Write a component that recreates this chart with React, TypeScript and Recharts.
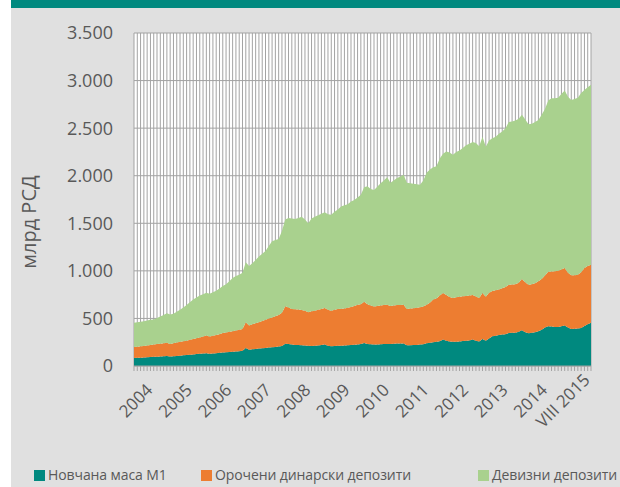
import { AreaChart, Area, XAxis, YAxis, CartesianGrid } from "recharts";

const TEAL = "#00897f";
const ORANGE = "#ed7d31";
const GREEN = "#a9d18e";
const TEXT = "#595959";
const GRID = "#a3a3a3";
const FONT = "'Open Sans', sans-serif";

// monthly categories, I 2004 .. VIII 2015
const roman = ["I", "II", "III", "IV", "V", "VI", "VII", "VIII", "IX", "X", "XI", "XII"];
const months: string[] = [];
for (let y = 2004; y <= 2015; y++) {
  for (let m = 0; m < 12; m++) {
    if (y === 2015 && m > 7) break;
    months.push(`${roman[m]} ${y}`);
  }
}

// Новчана маса М1 (млрд РСД)
const moneyM1 = [
  85, 87, 88, 90, 92, 94, 96, 98, 100, 102, 105, 100,
  102, 105, 108, 112, 115, 118, 121, 125, 128, 131, 135, 130,
  132, 135, 138, 142, 145, 148, 150, 152, 155, 160, 190, 172,
  175, 179, 183, 186, 190, 194, 198, 201, 205, 210, 235, 230,
  225, 222, 220, 218, 215, 212, 210, 212, 215, 220, 225, 212,
  207, 210, 212, 214, 215, 218, 222, 224, 225, 230, 243, 232,
  228, 226, 226, 228, 230, 231, 232, 234, 236, 236, 236, 218,
  218, 220, 222, 225, 228, 240, 245, 250, 255, 260, 278, 265,
  258, 256, 255, 258, 262, 265, 268, 278, 265, 258, 284, 266,
  290, 313, 318, 325, 330, 335, 348, 349, 350, 360, 376, 355,
  345, 350, 355, 365, 380, 405, 418, 414, 410, 410, 418, 425,
  405, 390, 392, 395, 400, 420, 440, 455,
];

// Орочени динарски депозити
const termDinar = [
  115, 116, 119, 120, 123, 126, 129, 132, 135, 138, 140, 132,
  136, 142, 147, 148, 150, 157, 164, 167, 172, 179, 185, 180,
  186, 190, 197, 206, 207, 212, 215, 220, 225, 230, 270, 253,
  265, 271, 277, 286, 295, 304, 312, 321, 330, 350, 392, 385,
  375, 375, 373, 370, 365, 353, 365, 370, 375, 380, 385, 378,
  375, 380, 388, 389, 390, 394, 398, 406, 420, 420, 432, 418,
  407, 399, 404, 407, 410, 414, 398, 401, 404, 406, 409, 382,
  387, 388, 390, 393, 397, 405, 420, 448, 455, 480, 490, 480,
  467, 459, 467, 470, 471, 472, 472, 467, 465, 457, 484, 461,
  480, 474, 477, 480, 488, 495, 507, 507, 508, 515, 539, 525,
  510, 510, 515, 525, 535, 545, 572, 578, 585, 590, 597, 605,
  575, 565, 563, 565, 585, 610, 610, 610,
];

// Девизни депозити
const fxDeposits = [
  255, 257, 258, 260, 263, 265, 265, 275, 285, 295, 310, 308,
  312, 323, 335, 355, 375, 395, 415, 428, 440, 445, 450, 450,
  457, 465, 480, 492, 508, 530, 560, 573, 580, 590, 630, 625,
  640, 665, 690, 708, 725, 762, 800, 803, 800, 860, 913, 940,
  950, 948, 962, 982, 960, 935, 975, 988, 995, 1000, 1005, 1005,
  1008, 1030, 1045, 1074, 1085, 1088, 1109, 1115, 1125, 1150, 1205, 1240,
  1225, 1225, 1255, 1285, 1310, 1340, 1295, 1315, 1335, 1348, 1365, 1325,
  1315, 1307, 1298, 1287, 1325, 1385, 1400, 1392, 1390, 1440, 1462, 1510,
  1520, 1505, 1528, 1537, 1557, 1583, 1595, 1610, 1615, 1595, 1642, 1578,
  1600, 1608, 1615, 1635, 1647, 1670, 1710, 1714, 1722, 1725, 1725, 1710,
  1685, 1685, 1695, 1695, 1725, 1750, 1800, 1823, 1820, 1820, 1845, 1865,
  1850, 1840, 1850, 1860, 1885, 1870, 1880, 1890,
];

// labelled months on the x axis
const tickMonths = [
  "VII 2004", "VII 2005", "VII 2006", "VII 2007", "VII 2008", "VII 2009",
  "VII 2010", "VII 2011", "VII 2012", "VII 2013", "VII 2014", "VIII 2015",
];
const tickLabels = [
  "2004", "2005", "2006", "2007", "2008", "2009",
  "2010", "2011", "2012", "2013", "2014", "VIII 2015",
];
const yTicks = [0, 500, 1000, 1500, 2000, 2500, 3000, 3500];

const seriesNames = ["Новчана маса М1", "Орочени динарски депозити", "Девизни депозити"];

const data = months.map((month, i) => ({
  month,
  m1: moneyM1[i],
  term: termDinar[i],
  fx: fxDeposits[i],
}));

const formatThousands = (v: number) => String(v).replace(/\B(?=(\d{3})+(?!\d))/g, ".");

const MonthTick = ({ x, y, payload }: any) => {
  const k = tickMonths.indexOf(payload.value);
  if (k < 0) return <g />;
  const last = k === tickMonths.length - 1;
  return (
    <text
      x={0}
      y={0}
      transform={`translate(${x},${last ? y + 10 : y + 20}) rotate(-45)`}
      textAnchor="end"
      fill={TEXT}
      fontSize={17}
      fontFamily={FONT}
    >
      {tickLabels[k]}
    </text>
  );
};

// axis title sits a bit below the plot centre, as in the original
const AxisTitle = () => (
  <text
    transform="translate(36,222) rotate(-90)"
    textAnchor="middle"
    fill={TEXT}
    fontSize={20}
    fontFamily={FONT}
  >
    млрд РСД
  </text>
);

const legendLefts = [34, 201, 478];
const legendColors = [TEAL, ORANGE, GREEN];

export default function App() {
  return (
    <div style={{ position: "absolute", left: 0, top: 0, width: 620, height: 487, overflow: "hidden", background: "#fff" }}>
      {/* panel background + header band */}
      <div style={{ position: "absolute", left: 11, top: 0, width: 609, height: 487, background: "#e0e0e0" }} />
      <div style={{ position: "absolute", left: 11, top: 0, width: 609, height: 8, background: TEAL }} />

      <div style={{ position: "absolute", left: 0, top: 0 }}>
        <AreaChart width={620} height={487} data={data} margin={{ top: 33, right: 29, bottom: 50, left: 0 }}>
          <CartesianGrid stroke={GRID} fill="#ffffff" />
          <XAxis
            dataKey="month"
            interval={0}
            height={71}
            tick={<MonthTick />}
            tickSize={5}
            tickMargin={0}
            stroke={GRID}
          />
          <YAxis
            width={134}
            domain={[0, 3500]}
            ticks={yTicks}
            tickFormatter={formatThousands}
            axisLine={false}
            tickLine={false}
            tickSize={0}
            tickMargin={21}
            tick={{ fill: TEXT, fontSize: 18, fontFamily: FONT }}
            label={{ value: "млрд РСД", content: <AxisTitle /> }}
          />
          <Area type="linear" dataKey="m1" name={seriesNames[0]} stackId="1" stroke="none" fill={TEAL} fillOpacity={1} isAnimationActive={false} />
          <Area type="linear" dataKey="term" name={seriesNames[1]} stackId="1" stroke="none" fill={ORANGE} fillOpacity={1} isAnimationActive={false} />
          <Area type="linear" dataKey="fx" name={seriesNames[2]} stackId="1" stroke="none" fill={GREEN} fillOpacity={1} isAnimationActive={false} />
        </AreaChart>
      </div>

      {/* legend */}
      {seriesNames.map((name, i) => (
        <div
          key={name}
          style={{
            position: "absolute",
            left: legendLefts[i],
            top: 467,
            display: "flex",
            alignItems: "center",
            fontFamily: FONT,
            fontSize: 14,
            letterSpacing: -0.1,
            color: TEXT,
            whiteSpace: "nowrap",
            lineHeight: "16px",
          }}
        >
          <span style={{ display: "inline-block", width: 11, height: 11, background: legendColors[i], marginRight: 3 }} />
          {name}
        </div>
      ))}
    </div>
  );
}
